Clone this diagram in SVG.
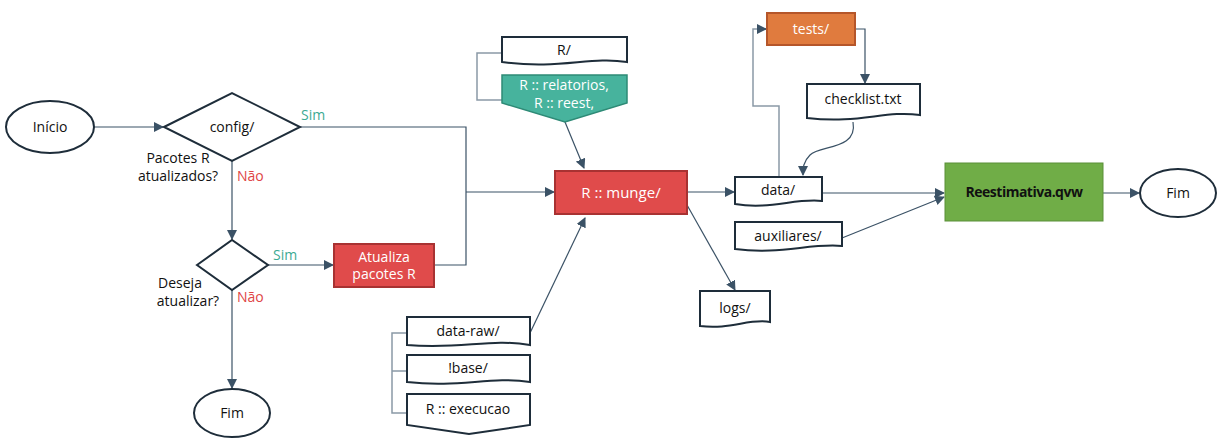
<svg xmlns="http://www.w3.org/2000/svg" width="1222" height="446" viewBox="0 0 1222 446">
<style>
text{font-family:"Open Sans","Liberation Sans",sans-serif;font-size:14px;fill:#111;}
.c{text-anchor:middle}
.w{fill:#fff}
.doc{fill:#fff;stroke:#1E2D3A;stroke-width:2}
.term{fill:#fff;stroke:#1E2D3A;stroke-width:2}
.ln{fill:none;stroke:#3B5266;stroke-width:1.2}
.br{fill:none;stroke:#8A99A6;stroke-width:1.5}
.sim{fill:#3BAA92}.nao{fill:#E04545}
</style>
<defs>
<marker id="a" markerWidth="10" markerHeight="10" refX="9" refY="5" orient="auto" markerUnits="userSpaceOnUse"><path d="M0,0 L10,5 L0,10 Z" fill="#3B5266"/></marker>
</defs>
<g id="connectors">
<path class="ln" d="M94,127 H163" marker-end="url(#a)"/>
<path class="ln" d="M300,127 H466 V265 H434"/>
<path class="ln" d="M466,192 H554" marker-end="url(#a)"/>
<path class="ln" d="M232,161 V239" marker-end="url(#a)"/>
<path class="ln" d="M268,265 H333" marker-end="url(#a)"/>
<path class="ln" d="M232,290 V388" marker-end="url(#a)"/>
<path class="br" d="M502,53 H477 V100 H504"/>
<path class="ln" d="M565,122 L584,168" marker-end="url(#a)"/>
<path class="br" d="M407,333 H392 V413 H407 M392,371 H407"/>
<path class="ln" d="M530,333 L585,218" marker-end="url(#a)"/>
<path class="ln" d="M687,192 H734" marker-end="url(#a)"/>
<path class="ln" d="M687,205 L735,290" marker-end="url(#a)"/>
<path class="ln" d="M822,193 H944" marker-end="url(#a)"/>
<path class="ln" d="M842,238 L944,197" marker-end="url(#a)"/>
<path class="ln" d="M1103,193 H1139" marker-end="url(#a)"/>
<path class="br" d="M779,177 V106 H753 V29 H766" />
<path class="ln" d="M760,29 H766" marker-end="url(#a)"/>
<path class="ln" d="M855,29 H865 V83" marker-end="url(#a)"/>
<path class="ln" d="M853,122 C858,150 820,145 810,155 C803,162 803,168 803,175" marker-end="url(#a)"/>
</g>
<g id="inicio"><ellipse class="term" cx="50" cy="127" rx="44" ry="26"/><text class="c" x="50" y="132">Início</text></g>
<g id="config"><path class="term" d="M164,127 L232,93 L300,127 L232,161 Z"/><text class="c" x="232" y="132">config/</text>
<text class="c" x="178" y="163">Pacotes R</text><text class="c" x="178" y="181">atualizados?</text>
<text class="sim" x="301" y="120">Sim</text><text class="nao" x="237" y="181">Não</text></g>
<g id="deseja"><path class="term" d="M197,265 L232,240 L268,265 L232,290 Z"/>
<text class="c" x="180" y="288">Deseja</text><text class="c" x="188" y="306">atualizar?</text>
<text class="sim" x="273" y="260">Sim</text><text class="nao" x="237" y="302">Não</text></g>
<g id="atualiza"><rect x="334" y="244" width="100" height="43" fill="#E04B4B" stroke="#A83232" stroke-width="2"/><text class="c w" x="384" y="262">Atualiza</text><text class="c w" x="384" y="279">pacotes R</text></g>
<g id="fim1"><ellipse class="term" cx="232" cy="413" rx="38" ry="24"/><text class="c" x="232" y="418">Fim</text></g>
<g id="munge"><rect x="555" y="171" width="132" height="43" fill="#E04B4B" stroke="#A83232" stroke-width="2"/><text class="c w" x="621" y="198" style="font-size:15px">R :: munge/</text></g>
<g id="rdir"><path class="doc" d="M502,37 H627 V62 C590,56 560,70 502,62 Z"/><text class="c" x="564" y="55">R/</text></g>
<g id="relatorios"><path d="M502,75 H627 V103 L565,122 L502,103 Z" fill="#47B39D" stroke="#2E8A76" stroke-width="1.5"/><text class="c w" x="564" y="90">R :: relatorios,</text><text class="c w" x="564" y="108">R :: reest,</text></g>
<g id="dataraw"><path class="doc" d="M407,317 H530 V345 C490,338 460,350 407,345 Z"/><text class="c" x="468" y="336">data-raw/</text></g>
<g id="base"><path class="doc" d="M407,355 H530 V382 C490,376 460,388 407,382 Z"/><text class="c" x="468" y="373">!base/</text></g>
<g id="execucao"><path class="doc" d="M407,394 H530 V425 L469,434 L407,425 Z"/><text class="c" x="468" y="414">R :: execucao</text></g>
<g id="data"><path class="doc" d="M735,177 H822 V201 C795,198 770,210 735,204 Z"/><text class="c" x="778" y="195">data/</text></g>
<g id="auxiliares"><path class="doc" d="M735,222 H842 V246 C810,243 780,255 735,249 Z"/><text class="c" x="788" y="241">auxiliares/</text></g>
<g id="logs"><path class="doc" d="M700,291 H770 V322 C750,318 730,330 700,326 Z"/><text class="c" x="735" y="313">logs/</text></g>
<g id="tests"><rect x="767" y="13" width="88" height="32" fill="#E07B3E" stroke="#B5562A" stroke-width="2"/><text class="c w" x="811" y="34">tests/</text></g>
<g id="checklist"><path class="doc" d="M807,84 H920 V115 C885,110 860,124 807,118 Z"/><text class="c" x="863" y="104">checklist.txt</text></g>
<g id="reest"><rect x="945" y="163" width="158" height="58" fill="#70AD47" stroke="#5A8F38" stroke-width="1"/><text class="c" x="1024" y="197" style="font-weight:bold;letter-spacing:-0.5px">Reestimativa.qvw</text></g>
<g id="fim2"><ellipse class="term" cx="1178" cy="193" rx="38" ry="24"/><text class="c" x="1178" y="198">Fim</text></g>
</svg>
